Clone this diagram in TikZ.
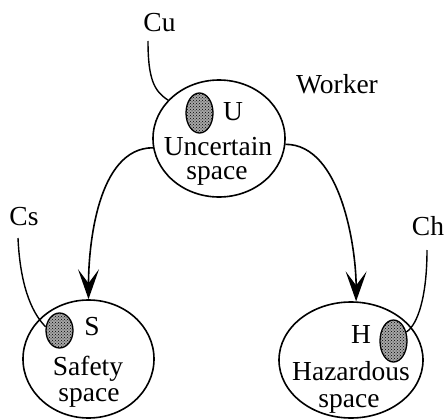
\documentclass[tikz,border=0pt]{standalone}
\usepackage{fontspec}
\setmainfont{Liberation Serif}
\usetikzlibrary{shapes.geometric,arrows.meta,patterns}
\begin{document}
\begin{tikzpicture}[x=1pt,y=-1pt,
  big/.style={draw, ellipse, line width=1.6pt, inner sep=0pt},
  dotted ell/.style={draw, ellipse, line width=1.3pt, inner sep=0pt, minimum width=27pt, preaction={fill=black!35}, pattern=crosshatch dots, pattern color=black},
  txt/.style={font=\fontsize{27.5}{30}\selectfont, anchor=base, inner sep=0pt},
  wire/.style={line width=1.4pt},
  arr/.style={line width=1.6pt, -{Stealth[length=30pt,width=21pt,inset=14pt]}}]
\useasboundingbox (0,0) rectangle (447,420);
% big ellipses
\node[big, minimum width=132pt, minimum height=117pt] (U) at (219,138.5) {};
\node[big, minimum width=131pt, minimum height=118pt] (S) at (88.5,359) {};
\node[big, minimum width=144pt, minimum height=116pt] (H) at (351,360) {};
% small dotted ellipses
\node[dotted ell, minimum height=40pt] (u) at (199.5,113) {};
\node[dotted ell, minimum height=35pt] (s) at (59.5,330.5) {};
\node[dotted ell, minimum height=42pt] (h) at (393.5,341) {};
% texts
\node[txt] (uL) at (233,120) {U};
\node[txt] (uT1) at (218,155) {Uncertain};
\node[txt] (uT2) at (217,179) {space};
\node[txt] (sL) at (92,335) {S};
\node[txt] (sT1) at (88,375) {Safety};
\node[txt] (sT2) at (89,401) {space};
\node[txt] (hL) at (361,343) {H};
\node[txt] (hT1) at (351,380) {Hazardous};
\node[txt] (hT2) at (349,407) {space};
\node[txt] (cu) at (159.5,32) {Cu};
\node[txt] (cs) at (24,225) {Cs};
\node[txt] (ch) at (428,235) {Ch};
\node[txt] (wk) at (337,93) {Worker};
% wire ends
\coordinate (cu0) at (148,41);
\coordinate (cs0) at (18,238);
\coordinate (ch0) at (427,250);
\draw[wire] (cu0) .. controls +(0,38) and +(-14,-9) .. (U.143);
\draw[wire] (cs0) .. controls +(2,45) and +(-15,-15) .. (s.165);
\draw[wire] (ch0) .. controls +(0,45) and +(12,-8) .. (h.35);
% arrows
\draw[arr] (U.188) .. controls +(-56,0) and +(0,-52) .. (S.north);
\draw[arr] (U.355) .. controls +(56,0) and +(0,-52) .. (H.85);
\end{tikzpicture}
\end{document}
